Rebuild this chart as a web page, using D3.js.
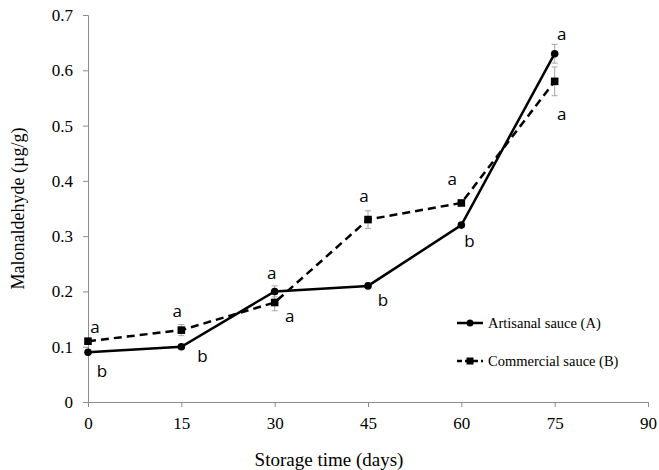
<!DOCTYPE html>
<html>
<head>
<meta charset="utf-8">
<script src="https://cdn.jsdelivr.net/npm/d3@7"></script>
<style>
  body { margin: 0; background: #fff; }
  svg { display: block; }
</style>
</head>
<body>
<div id="chart"></div>
<script>
// data
const days = [0, 15, 30, 45, 60, 75];
const artisanal = [0.09, 0.10, 0.20, 0.21, 0.32, 0.63];
const artisanalErr = [0.004, 0.004, 0.01, 0.004, 0.004, 0.017];
const artisanalLetters = ["b", "b", "a", "b", "b", "a"];
const commercial = [0.11, 0.13, 0.18, 0.33, 0.36, 0.58];
const commercialErr = [0.005, 0.01, 0.015, 0.016, 0.004, 0.026];
const commercialLetters = ["a", "a", "a", "a", "a", "a"];
const xTicks = [0, 15, 30, 45, 60, 75, 90];
const yTicks = [0, 0.1, 0.2, 0.3, 0.4, 0.5, 0.6, 0.7];

const width = 659, height = 470;
const margin = {top: 15, right: 11, bottom: 68, left: 88};

const svg = d3.select("#chart").append("svg")
    .attr("width", width)
    .attr("height", height);

const x = d3.scaleLinear().domain([0, 90]).range([margin.left, width - margin.right]);
const y = d3.scaleLinear().domain([0, 0.7]).range([height - margin.bottom, margin.top]);

const axisColor = "#8c8c8c";
const serif = "'Liberation Serif', 'Times New Roman', serif";

// axes
const xAxis = svg.append("g")
    .attr("transform", "translate(0," + y(0) + ")")
    .call(d3.axisBottom(x).tickValues(xTicks).tickSize(5).tickPadding(6).tickFormat(d3.format("d")));
const yAxis = svg.append("g")
    .attr("transform", "translate(" + x(0) + ",0)")
    .call(d3.axisLeft(y).tickValues(yTicks).tickSize(5).tickPadding(10).tickFormat(d => d === 0 ? "0" : d3.format(".1f")(d)));

[xAxis, yAxis].forEach(g => {
  g.select(".domain").attr("stroke", axisColor).attr("stroke-width", 1);
  g.selectAll(".tick line").attr("stroke", axisColor);
  g.selectAll(".tick text").attr("fill", "#000")
      .style("font-family", serif).style("font-size", "17px");
});
xAxis.selectAll(".tick text").attr("dy", "0.95em");

svg.append("text")
    .attr("x", 329)
    .attr("y", 466)
    .attr("text-anchor", "middle")
    .style("font-family", serif).style("font-size", "19px")
    .text("Storage time (days)");

svg.append("text")
    .attr("transform", "translate(24," + y(0.35) + ") rotate(-90)")
    .attr("text-anchor", "middle")
    .style("font-family", serif).style("font-size", "18px")
    .text("Malonaldehyde (µg/g)");

// series
const series = [
  {name: "Artisanal sauce (A)", vals: artisanal, err: artisanalErr, letters: artisanalLetters, dash: null, marker: "circle"},
  {name: "Commercial sauce (B)", vals: commercial, err: commercialErr, letters: commercialLetters, dash: "8,5", marker: "square"}
];

const line = d3.line().x(d => x(d[0])).y(d => y(d[1]));

// error bars first (behind lines)
series.forEach(s => {
  const g = svg.append("g").attr("stroke", "#a6a6a6").attr("stroke-width", 1);
  days.forEach((d, i) => {
    const cx = x(d), top = y(s.vals[i] + s.err[i]), bot = y(s.vals[i] - s.err[i]);
    g.append("line").attr("x1", cx).attr("x2", cx).attr("y1", top).attr("y2", bot);
    g.append("line").attr("x1", cx - 3).attr("x2", cx + 3).attr("y1", top).attr("y2", top);
    g.append("line").attr("x1", cx - 3).attr("x2", cx + 3).attr("y1", bot).attr("y2", bot);
  });
});

series.forEach(s => {
  const pts = days.map((d, i) => [d, s.vals[i]]);
  svg.append("path")
      .datum(pts)
      .attr("d", line)
      .attr("fill", "none")
      .attr("stroke", "#000")
      .attr("stroke-width", 2.5)
      .attr("stroke-dasharray", s.dash);
  if (s.marker === "circle") {
    svg.selectAll(null).data(pts).enter().append("circle")
        .attr("cx", d => x(d[0])).attr("cy", d => y(d[1])).attr("r", 3.8).attr("fill", "#000");
  } else {
    svg.selectAll(null).data(pts).enter().append("rect")
        .attr("x", d => x(d[0]) - 3.8).attr("y", d => y(d[1]) - 3.8)
        .attr("width", 7.6).attr("height", 7.6).attr("fill", "#000");
  }
});

// significance letters: offsets relative to each point
const letterOffsetsA = [[14, 19], [21, 9], [-3, -18], [15, 14], [8, 16], [7, -20]];
const letterOffsetsB = [[7, -14], [-4, -19], [15, 14], [-4, -24], [-9, -24], [7, 33]];
[[series[0], letterOffsetsA], [series[1], letterOffsetsB]].forEach(([s, offs]) => {
  svg.selectAll(null).data(days).enter().append("text")
      .attr("x", (d, i) => x(d) + offs[i][0])
      .attr("y", (d, i) => y(s.vals[i]) + offs[i][1])
      .attr("text-anchor", "middle")
      .attr("dy", "0.35em")
      .style("font-family", "'Open Sans', 'DejaVu Sans', sans-serif")
      .style("font-size", "17px")
      .text((d, i) => s.letters[i]);
});

// legend
const legend = svg.append("g").attr("transform", "translate(457,323)");
series.forEach((s, i) => {
  const g = legend.append("g").attr("transform", "translate(0," + i * 38 + ")");
  g.append("line").attr("x1", 0).attr("x2", 26).attr("y1", 0).attr("y2", 0)
      .attr("stroke", "#000").attr("stroke-width", 2.5).attr("stroke-dasharray", s.dash ? "5,3" : null);
  if (s.marker === "circle") g.append("circle").attr("cx", 13).attr("r", 3.5).attr("fill", "#000");
  else g.append("rect").attr("x", 9.5).attr("y", -3.5).attr("width", 7).attr("height", 7).attr("fill", "#000");
  g.append("text").attr("x", 31).attr("dy", "0.35em")
      .style("font-family", serif).style("font-size", "14.5px")
      .text(s.name);
});
</script>
</body>
</html>
